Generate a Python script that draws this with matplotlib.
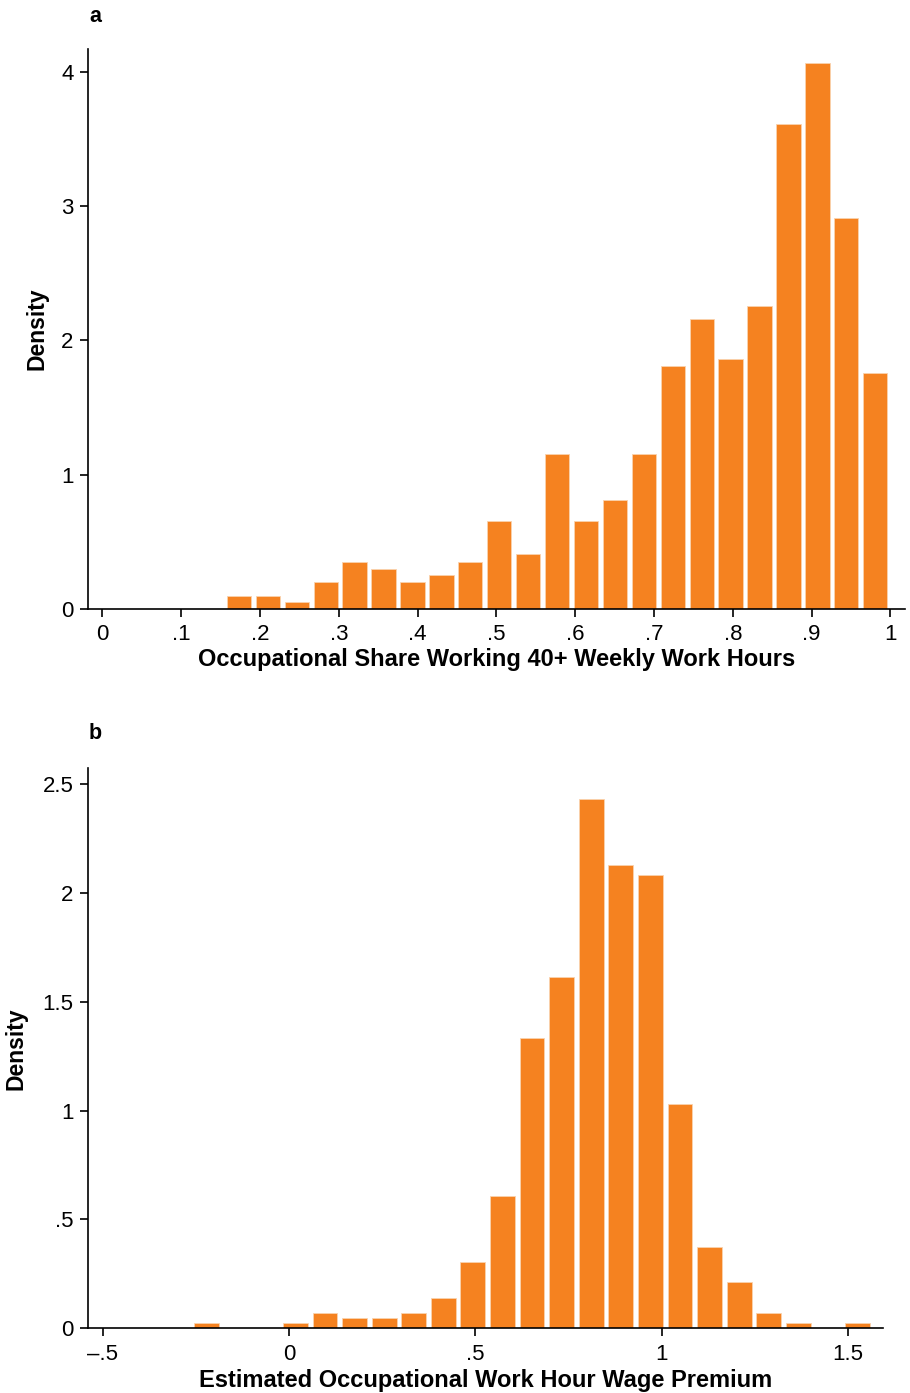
import numpy as np
import matplotlib
matplotlib.use('Agg')
import matplotlib.pyplot as plt

plt.rcParams['font.family'] = ['Liberation Sans', 'DejaVu Sans']

# Panel a: occupational share working 40+ hours (density per bin)
share_centers_start = 0.1733
share_bin_width = 0.0367
share_density = [0.10, 0.10, 0.05, 0.20, 0.35, 0.30, 0.20, 0.25, 0.35, 0.655,
                 0.41, 1.155, 0.655, 0.81, 1.155, 1.81, 2.16, 1.86, 2.26, 3.61,
                 4.065, 2.91, 1.76]
share_ticks = [0, 0.1, 0.2, 0.3, 0.4, 0.5, 0.6, 0.7, 0.8, 0.9, 1.0]
share_ticklabels = ['0', '.1', '.2', '.3', '.4', '.5', '.6', '.7', '.8', '.9', '1']
share_yticks = [0, 1, 2, 3, 4]
share_yticklabels = ['0', '1', '2', '3', '4']

# Panel b: estimated wage premium (density per bin)
prem_centers_start = -0.2213
prem_bin_width = 0.0794
prem_density = [0.0245, 0.0, 0.0, 0.0245, 0.0706, 0.047, 0.047, 0.0706, 0.141,
                0.303, 0.608, 1.335, 1.614, 2.432, 2.129, 2.081, 1.03, 0.372,
                0.211, 0.0706, 0.0245, 0.0, 0.0245]
prem_ticks = [-0.5, 0, 0.5, 1.0, 1.5]
prem_ticklabels = ['\u2013.5', '0', '.5', '1', '1.5']
prem_yticks = [0, 0.5, 1, 1.5, 2, 2.5]
prem_yticklabels = ['0', '.5', '1', '1.5', '2', '2.5']

BAR = '#F58220'


def style_axis(ax):
    for side in ['top', 'right']:
        ax.spines[side].set_visible(False)
    for side in ['left', 'bottom']:
        ax.spines[side].set_linewidth(1.2)
    ax.tick_params(axis='both', direction='out', length=6, width=1.2,
                   labelsize=16, pad=4)
    ax.tick_params(axis='x', pad=5)


def draw_hist(ax, start, width, dens):
    centers = start + width * np.arange(len(dens))
    ax.bar(centers, dens, width=width * 0.84, color=BAR,
           edgecolor='#FAD2AE', linewidth=0.6)


fig = plt.figure(figsize=(9.1, 13.93), dpi=100)

ax_a = fig.add_axes([0.0962, 0.5628, 0.8984, 0.4020])
draw_hist(ax_a, share_centers_start, share_bin_width, share_density)
ax_a.set_xlim(-0.0188, 1.0186)
ax_a.set_ylim(0, 4.17)
ax_a.set_xticks(share_ticks)
ax_a.set_xticklabels(share_ticklabels)
ax_a.set_yticks(share_yticks)
ax_a.set_yticklabels(share_yticklabels)
style_axis(ax_a)
ax_a.set_xlabel('Occupational Share Working 40+ Weekly Work Hours',
                fontsize=17, fontweight='bold')
ax_a.set_ylabel('Density', fontsize=16.5, fontweight='bold')
ax_a.xaxis.set_label_coords(0.5, -0.070)
ax_a.yaxis.set_label_coords(-0.048, 0.5)

ax_b = fig.add_axes([0.0962, 0.0464, 0.8742, 0.4020])
draw_hist(ax_b, prem_centers_start, prem_bin_width, prem_density)
ax_b.set_xlim(-0.5407, 1.594)
ax_b.set_ylim(0, 2.571)
ax_b.set_xticks(prem_ticks)
ax_b.set_xticklabels(prem_ticklabels)
ax_b.set_yticks(prem_yticks)
ax_b.set_yticklabels(prem_yticklabels)
style_axis(ax_b)
ax_b.set_xlabel('Estimated Occupational Work Hour Wage Premium',
                fontsize=17, fontweight='bold')
ax_b.set_ylabel('Density', fontsize=16.5, fontweight='bold')
ax_b.xaxis.set_label_coords(0.5, -0.073)
ax_b.yaxis.set_label_coords(-0.075, 0.5)

fig.text(95 / 910, 1 - 22 / 1393, 'a', fontsize=15.5, fontweight='bold',
         ha='center', va='baseline')
fig.text(95 / 910, 1 - 739 / 1393, 'b', fontsize=15.5, fontweight='bold',
         ha='center', va='baseline')

fig.savefig('out.png', dpi=100)
